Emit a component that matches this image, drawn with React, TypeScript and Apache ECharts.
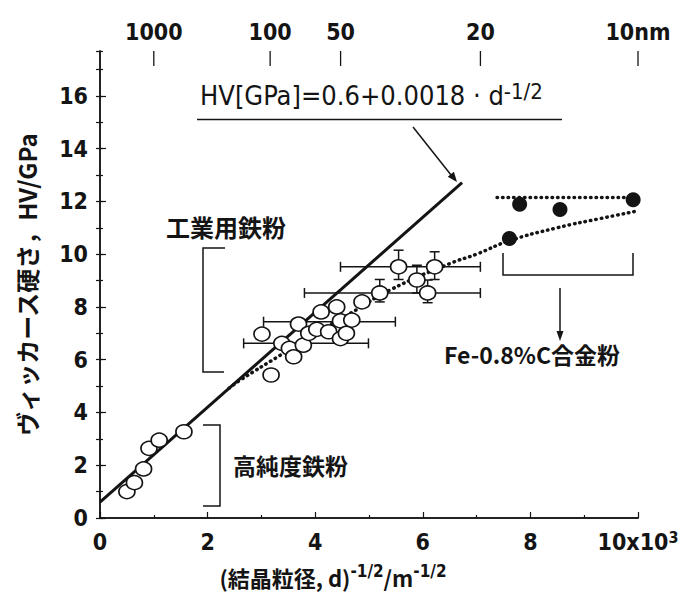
import React, { useEffect, useRef } from 'react';
import * as echarts from 'echarts';

// ---- data (x in 10^3 m^-1/2, y in GPa) ----
const highPurityPoints: number[][] = [
  [0.5, 1.0], [0.64, 1.34], [0.81, 1.86], [0.91, 2.64], [1.1, 2.95], [1.56, 3.27],
];
const industrialPoints: number[][] = [
  [3.01, 6.97], [3.18, 5.42], [3.38, 6.62], [3.52, 6.43], [3.6, 6.11], [3.69, 7.35],
  [3.78, 6.55], [3.88, 7.0], [4.03, 7.15], [4.11, 7.81], [4.25, 7.06], [4.4, 8.0],
  [4.47, 7.47], [4.47, 6.8], [4.58, 7.0], [4.68, 7.5], [4.87, 8.19], [5.2, 8.53],
  [5.55, 9.52], [6.22, 9.52], [5.89, 9.02], [6.09, 8.53],
];
const alloyPoints: number[][] = [
  [7.61, 10.59], [7.8, 11.89], [8.55, 11.69], [9.91, 12.06],
];
const hallPetchLine: number[][] = [[0, 0.6], [6.73, 12.71]];
const dottedCurve: number[][] = [
  [2.4, 4.92], [2.61, 5.23], [3.35, 6.17], [4.0, 7.0], [4.65, 7.75], [5.39, 8.64],
  [6.51, 9.65], [7.0, 10.0], [7.6, 10.5], [8.5, 11.0], [9.3, 11.35], [10, 11.64],
];
const alloyPlateau: number[][] = [[7.38, 12.15], [10, 12.15]];
// [xLow, xHigh, y]
const xErrorBars: number[][] = [
  [4.47, 7.07, 9.52], [3.8, 7.07, 8.53], [3.04, 5.49, 7.44], [2.67, 4.99, 6.62],
];
// [x, yLow, yHigh]
const yErrorBars: number[][] = [
  [5.55, 9.04, 10.15], [6.22, 9.04, 10.09], [5.89, 8.53, 9.58], [6.09, 8.16, 9.02], [5.2, 8.19, 9.04],
];
const topGrainSizesNm: number[] = [1000, 100, 50, 20, 10];
const Y_MAX = 17.7;

const NUM_FONT = "'DejaVu Sans Condensed', 'DejaVu Sans', sans-serif";
const JP_FONT = "'Noto Sans CJK JP', 'Noto Sans', sans-serif";
const INK = '#141414';

export default function App() {
  const ref = useRef<HTMLDivElement>(null);

  useEffect(() => {
    if (!ref.current) return;
    const chart = echarts.init(ref.current, null, { renderer: 'svg' });
    // grain size d (nm) -> d^-1/2 in 10^3 m^-1/2
    const topTickValues = topGrainSizesNm.map((d) => Math.sqrt(1000 / d));

    const errStyle = { stroke: INK, lineWidth: 1.5 };
    const cap = 5;
    const tickStyle = { color: INK, width: 1.2 };

    const option: any = {
      animation: false,
      backgroundColor: '#ffffff',
      grid: { left: 100, top: 51, right: 52, bottom: 81, containLabel: false, outerBoundsMode: 'none' },
      xAxis: [
        {
          type: 'value', min: 0, max: 10, interval: 2, position: 'bottom',
          axisLine: { show: true, lineStyle: { color: INK, width: 1.5 } },
          axisTick: { show: true, inside: true, length: 6, lineStyle: tickStyle },
          minorTick: { show: true, splitNumber: 2, length: 3, lineStyle: tickStyle },
          splitLine: { show: false },
          axisLabel: {
            color: INK, fontSize: 23, fontWeight: 'bold', fontFamily: NUM_FONT, margin: 11, lineHeight: 26,
            formatter: (v: number) => (v === 10 ? '10x10{s|3}' : String(v)),
            rich: { s: { fontSize: 16, fontWeight: 'bold', fontFamily: NUM_FONT, color: INK, verticalAlign: 'top', lineHeight: 14 } },
          },
          name: '{m|(結晶粒径, d)}{s|-1/2}{m|/m}{s|-1/2}',
          nameLocation: 'middle', nameGap: 44,
          nameTextStyle: {
            padding: [0, 72, 0, 0],
            rich: {
              m: { fontSize: 22, fontWeight: 'bold', fontFamily: JP_FONT, color: INK, lineHeight: 30 },
              s: { fontSize: 17, fontWeight: 'bold', fontFamily: NUM_FONT, color: INK, verticalAlign: 'top', lineHeight: 17 },
            },
          },
        },
        {
          type: 'value', min: 0, max: 10, position: 'top',
          axisLine: { show: true, lineStyle: { color: INK, width: 1.5 } },
          axisTick: { show: false },
          splitLine: { show: false },
          axisLabel: {
            color: INK, fontSize: 23, fontWeight: 'bold', fontFamily: NUM_FONT, margin: 8,
            customValues: topTickValues, showMaxLabel: true, hideOverlap: false,
            formatter: (v: number) => {
              let best = 0;
              topTickValues.forEach((t, i) => { if (Math.abs(t - v) < Math.abs(topTickValues[best] - v)) best = i; });
              const d = topGrainSizesNm[best];
              return d === 10 ? '10nm' : String(d);
            },
          },
        },
      ],
      yAxis: [
        {
          type: 'value', min: 0, max: Y_MAX, interval: 2, position: 'left',
          axisLine: { show: true, lineStyle: { color: INK, width: 1.5 } },
          axisTick: { show: true, inside: true, length: 6, lineStyle: tickStyle },
          splitLine: { show: false },
          axisLabel: {
            color: INK, fontSize: 23, fontWeight: 'bold', fontFamily: NUM_FONT, margin: 12, showMaxLabel: false,
            formatter: (v: number) => (Math.abs(v % 2) < 1e-9 ? String(v) : ''),
          },
          name: 'ヴィッカース硬さ，HV/GPa', nameLocation: 'middle', nameRotate: 90, nameGap: 62,
          nameTextStyle: { fontSize: 24, fontWeight: 'bold', fontFamily: JP_FONT, color: INK },
        },
        {
          type: 'value', min: 0, max: Y_MAX, interval: 1, position: 'right',
          axisLine: { show: true, lineStyle: { color: INK, width: 1.5 } },
          axisTick: { show: true, inside: true, length: 4, lineStyle: tickStyle },
          splitLine: { show: false },
          axisLabel: { show: false },
        },
        {
          type: 'value', min: 0, max: Y_MAX, interval: 1, position: 'left', offset: 0,
          axisLine: { show: false },
          axisTick: { show: true, inside: true, length: 3, lineStyle: tickStyle },
          splitLine: { show: false },
          axisLabel: { show: false },
        },
      ],
      series: [
        {
          // top axis ticks (grain size in nm)
          type: 'custom', xAxisIndex: 0, yAxisIndex: 0, z: 1, silent: true,
          data: topTickValues.map((v) => [v]), encode: { x: 0 },
          renderItem: (_p: any, api: any) => {
            const p = api.coord([api.value(0), Y_MAX]);
            return { type: 'line', shape: { x1: p[0], y1: p[1], x2: p[0], y2: p[1] + 15 }, style: { stroke: INK, lineWidth: 1.3 } };
          },
        },
        {
          type: 'custom', xAxisIndex: 0, yAxisIndex: 0, z: 1,
          data: xErrorBars, encode: { x: [0, 1], y: 2 },
          renderItem: (_p: any, api: any) => {
            const a = api.coord([api.value(0), api.value(2)]);
            const b = api.coord([api.value(1), api.value(2)]);
            return {
              type: 'group', children: [
                { type: 'line', shape: { x1: a[0], y1: a[1], x2: b[0], y2: b[1] }, style: errStyle },
                { type: 'line', shape: { x1: a[0], y1: a[1] - cap, x2: a[0], y2: a[1] + cap }, style: errStyle },
                { type: 'line', shape: { x1: b[0], y1: b[1] - cap, x2: b[0], y2: b[1] + cap }, style: errStyle },
              ],
            };
          },
        },
        {
          type: 'custom', xAxisIndex: 0, yAxisIndex: 0, z: 1,
          data: yErrorBars, encode: { x: 0, y: [1, 2] },
          renderItem: (_p: any, api: any) => {
            const a = api.coord([api.value(0), api.value(1)]);
            const b = api.coord([api.value(0), api.value(2)]);
            return {
              type: 'group', children: [
                { type: 'line', shape: { x1: a[0], y1: a[1], x2: b[0], y2: b[1] }, style: errStyle },
                { type: 'line', shape: { x1: a[0] - cap, y1: a[1], x2: a[0] + cap, y2: a[1] }, style: errStyle },
                { type: 'line', shape: { x1: b[0] - cap, y1: b[1], x2: b[0] + cap, y2: b[1] }, style: errStyle },
              ],
            };
          },
        },
        {
          type: 'line', data: hallPetchLine, showSymbol: false, symbol: 'none', z: 2,
          lineStyle: { color: INK, width: 3 },
        },
        {
          type: 'line', data: dottedCurve, smooth: true, showSymbol: false, symbol: 'none', z: 2,
          lineStyle: { color: INK, width: 3.5, type: [0.5, 5], cap: 'round' },
        },
        {
          type: 'line', data: alloyPlateau, showSymbol: false, symbol: 'none', z: 2,
          lineStyle: { color: INK, width: 3.5, type: [0.5, 5], cap: 'round' },
        },
        {
          type: 'scatter', data: highPurityPoints.concat(industrialPoints), z: 3,
          symbol: 'circle', symbolSize: [16, 14],
          itemStyle: { color: '#ffffff', borderColor: INK, borderWidth: 1.6, opacity: 1 },
        },
        {
          type: 'scatter', data: alloyPoints, z: 3,
          symbol: 'circle', symbolSize: 15,
          itemStyle: { color: INK, opacity: 1 },
        },
      ],
      graphic: [
        {
          type: 'text', x: 200, y: 95, z: 10,
          style: {
            text: '{m|HV[GPa]=0.6+0.0018 · d}{s|-1/2}',
            align: 'left', verticalAlign: 'middle',
            rich: {
              m: { fontSize: 27, fontFamily: NUM_FONT, fill: INK, lineHeight: 30 },
              s: { fontSize: 22, fontFamily: NUM_FONT, fill: INK, verticalAlign: 'top', lineHeight: 22 },
            },
          },
        },
        { type: 'line', z: 10, shape: { x1: 197, y1: 119.5, x2: 562, y2: 119.5 }, style: { stroke: INK, lineWidth: 1.5 } },
        { type: 'line', z: 10, shape: { x1: 413, y1: 127, x2: 455, y2: 180 }, style: { stroke: INK, lineWidth: 1.5 } },
        { type: 'polygon', z: 10, shape: { points: [[457, 182], [447.7, 176.7], [453.9, 171.7]] }, style: { fill: INK } },

        { type: 'text', x: 166, y: 226, z: 10, style: { text: '工業用鉄粉', fontSize: 24, fontWeight: 'bold', fontFamily: JP_FONT, fill: INK, align: 'left', verticalAlign: 'middle' } },
        { type: 'polyline', z: 10, shape: { points: [[225, 248], [203, 248], [203, 372], [224, 372]] }, style: { stroke: INK, lineWidth: 1.5, fill: null } },

        { type: 'text', x: 233, y: 465, z: 10, style: { text: '高純度鉄粉', fontSize: 23, fontWeight: 'bold', fontFamily: JP_FONT, fill: INK, align: 'left', verticalAlign: 'middle' } },
        { type: 'polyline', z: 10, shape: { points: [[203, 425], [220, 425], [220, 506], [203, 506]] }, style: { stroke: INK, lineWidth: 1.5, fill: null } },

        { type: 'polyline', z: 10, shape: { points: [[503, 253], [503, 275], [633, 275], [633, 253]] }, style: { stroke: INK, lineWidth: 1.5, fill: null } },
        { type: 'line', z: 10, shape: { x1: 560, y1: 288, x2: 560, y2: 333 }, style: { stroke: INK, lineWidth: 1.5 } },
        { type: 'polygon', z: 10, shape: { points: [[560, 341], [556.5, 331], [563.5, 331]] }, style: { fill: INK } },
        { type: 'text', x: 532, y: 354, z: 10, style: { text: 'Fe-0.8%C合金粉', fontSize: 23, fontWeight: 'bold', fontFamily: JP_FONT, fill: INK, align: 'center', verticalAlign: 'middle' } },
      ],
    };

    chart.setOption(option);
    return () => chart.dispose();
  }, []);

  return <div ref={ref} style={{ position: 'absolute', left: 0, top: 0, width: 690, height: 599, background: '#fff' }} />;
}
